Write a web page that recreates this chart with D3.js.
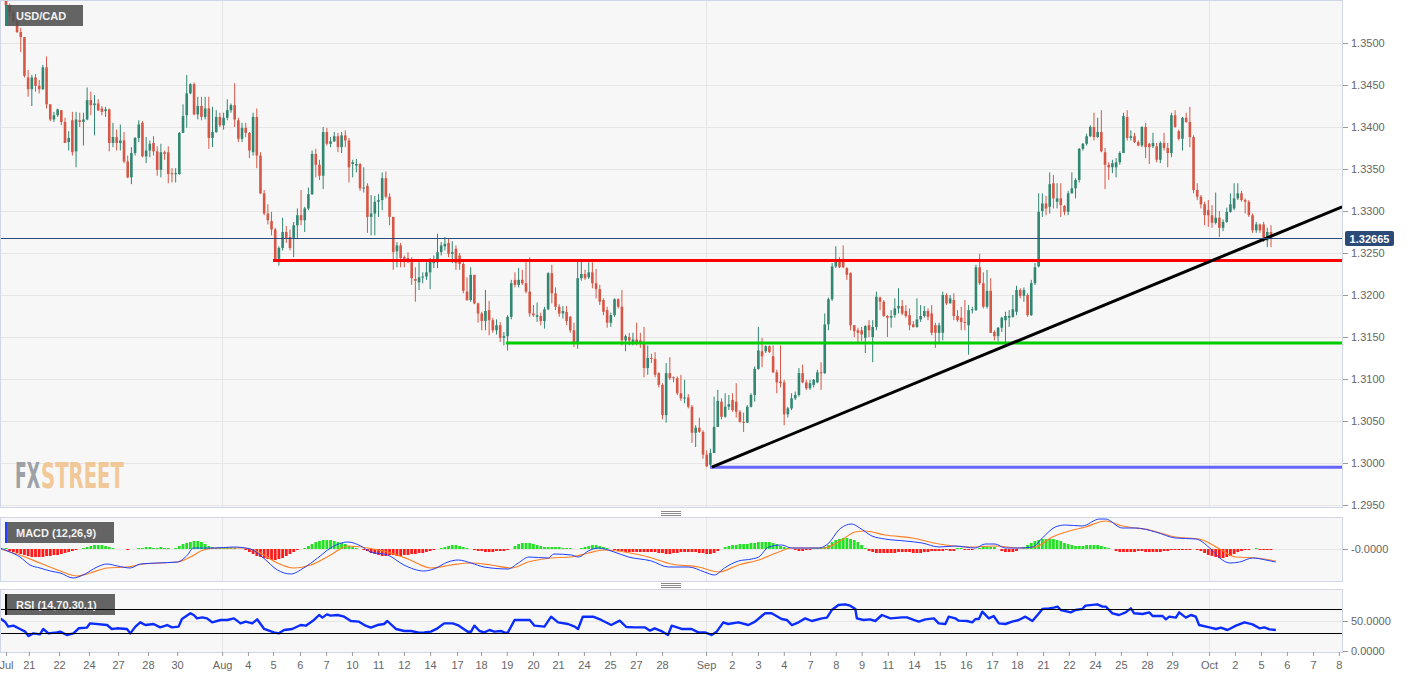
<!DOCTYPE html>
<html>
<head>
<meta charset="utf-8">
<script src="https://cdn.jsdelivr.net/npm/d3@7"></script>
<style>
  body { margin: 0; background: #fff; }
  svg { display: block; font-family: Arial, 'Liberation Sans', sans-serif; }
</style>
</head>
<body>
<script>
// USD/CAD 4h candles, Jul 20 .. Oct 5, rows are [open, close, high, low]
const candles = [
  [1.3551,1.3545,1.3557,1.3541],[1.3545,1.3537,1.3547,1.3532],[1.3536,1.3526,1.3539,1.3525],[1.3526,1.3513,1.3530,1.3512],
  [1.3513,1.3507,1.3518,1.3489],[1.3507,1.3461,1.3507,1.3459],[1.3459,1.3445,1.3468,1.3436],[1.3445,1.3459,1.3462,1.3425],
  [1.3459,1.3449,1.3463,1.3442],[1.3449,1.3445,1.3456,1.3440],[1.3445,1.3471,1.3474,1.3444],[1.3471,1.3427,1.3484,1.3422],
  [1.3427,1.3409,1.3427,1.3407],[1.3409,1.3414,1.3418,1.3406],[1.3414,1.3421,1.3422,1.3412],[1.3420,1.3406,1.3420,1.3402],
  [1.3406,1.3381,1.3411,1.3381],[1.3382,1.3387,1.3395,1.3372],[1.3408,1.3370,1.3418,1.3366],[1.3371,1.3409,1.3418,1.3352],
  [1.3408,1.3406,1.3417,1.3400],[1.3406,1.3409,1.3417,1.3378],[1.3409,1.3432,1.3447,1.3408],[1.3432,1.3426,1.3442,1.3414],
  [1.3426,1.3428,1.3438,1.3390],[1.3428,1.3420,1.3433,1.3419],[1.3422,1.3418,1.3425,1.3414],[1.3419,1.3421,1.3424,1.3412],
  [1.3421,1.3381,1.3422,1.3371],[1.3381,1.3388,1.3405,1.3376],[1.3388,1.3381,1.3397,1.3372],[1.3381,1.3384,1.3403,1.3372],
  [1.3384,1.3359,1.3394,1.3357],[1.3359,1.3340,1.3366,1.3339],[1.3340,1.3369,1.3376,1.3332],[1.3369,1.3387,1.3388,1.3366],
  [1.3387,1.3403,1.3408,1.3382],[1.3405,1.3365,1.3407,1.3364],[1.3365,1.3372,1.3388,1.3357],[1.3372,1.3380,1.3384,1.3364],
  [1.3381,1.3371,1.3389,1.3366],[1.3371,1.3349,1.3377,1.3342],[1.3349,1.3370,1.3380,1.3340],[1.3370,1.3368,1.3372,1.3361],
  [1.3370,1.3344,1.3377,1.3333],[1.3345,1.3344,1.3351,1.3334],[1.3344,1.3345,1.3351,1.3334],[1.3344,1.3393,1.3394,1.3343],
  [1.3393,1.3413,1.3427,1.3393],[1.3414,1.3440,1.3462,1.3399],[1.3440,1.3451,1.3452,1.3439],[1.3451,1.3415,1.3453,1.3414],
  [1.3415,1.3425,1.3436,1.3409],[1.3425,1.3412,1.3436,1.3408],[1.3412,1.3422,1.3436,1.3409],[1.3422,1.3387,1.3436,1.3374],
  [1.3387,1.3394,1.3424,1.3376],[1.3394,1.3412,1.3420,1.3393],[1.3412,1.3402,1.3417,1.3400],[1.3402,1.3411,1.3417,1.3397],
  [1.3411,1.3420,1.3433,1.3408],[1.3420,1.3426,1.3428,1.3417],[1.3426,1.3409,1.3452,1.3400],[1.3408,1.3386,1.3411,1.3382],
  [1.3386,1.3399,1.3405,1.3382],[1.3399,1.3393,1.3405,1.3388],[1.3393,1.3372,1.3394,1.3363],[1.3370,1.3412,1.3417,1.3366],
  [1.3412,1.3366,1.3422,1.3351],[1.3366,1.3321,1.3370,1.3320],[1.3321,1.3297,1.3325,1.3295],[1.3297,1.3289,1.3308,1.3284],
  [1.3288,1.3278,1.3299,1.3271],[1.3278,1.3243,1.3280,1.3242],[1.3243,1.3256,1.3258,1.3235],[1.3256,1.3275,1.3292,1.3253],
  [1.3275,1.3268,1.3282,1.3262],[1.3269,1.3256,1.3278,1.3253],[1.3268,1.3283,1.3287,1.3245],[1.3283,1.3295,1.3303,1.3268],
  [1.3295,1.3289,1.3325,1.3283],[1.3289,1.3303,1.3305,1.3275],[1.3303,1.3320,1.3328,1.3301],[1.3320,1.3368,1.3372,1.3319],
  [1.3368,1.3355,1.3374,1.3340],[1.3355,1.3342,1.3361,1.3337],[1.3342,1.3394,1.3400,1.3326],[1.3394,1.3380,1.3399,1.3378],
  [1.3380,1.3383,1.3388,1.3376],[1.3383,1.3389,1.3394,1.3382],[1.3389,1.3376,1.3393,1.3370],[1.3376,1.3390,1.3394,1.3369],
  [1.3390,1.3384,1.3396,1.3376],
  [1.3384,1.3352,1.3387,1.3334],[1.3356,1.3358,1.3361,1.3340],[1.3354,1.3356,1.3362,1.3346],[1.3356,1.3327,1.3357,1.3324],
  [1.3327,1.3328,1.3352,1.3322],[1.3330,1.3293,1.3333,1.3274],[1.3293,1.3297,1.3319,1.3271],[1.3297,1.3311,1.3318,1.3271],
  [1.3311,1.3313,1.3320,1.3293],[1.3313,1.3339,1.3346,1.3301],[1.3339,1.3317,1.3347,1.3315],[1.3317,1.3293,1.3321,1.3283],
  [1.3293,1.3251,1.3293,1.3230],[1.3252,1.3259,1.3263,1.3233],[1.3259,1.3244,1.3262,1.3233],[1.3245,1.3243,1.3247,1.3233],
  [1.3244,1.3239,1.3251,1.3238],[1.3239,1.3220,1.3245,1.3212],[1.3219,1.3217,1.3233,1.3192],[1.3215,1.3221,1.3239,1.3206],
  [1.3221,1.3222,1.3227,1.3214],[1.3222,1.3227,1.3239,1.3218],[1.3227,1.3240,1.3244,1.3207],[1.3238,1.3240,1.3247,1.3232],
  [1.3239,1.3251,1.3273,1.3232],[1.3251,1.3259,1.3263,1.3247],[1.3258,1.3261,1.3269,1.3253],[1.3262,1.3249,1.3267,1.3245],
  [1.3249,1.3251,1.3264,1.3238],[1.3255,1.3238,1.3259,1.3230],[1.3247,1.3237,1.3250,1.3230],[1.3237,1.3205,1.3239,1.3202],
  [1.3204,1.3194,1.3221,1.3193],[1.3194,1.3224,1.3233,1.3192],[1.3224,1.3190,1.3224,1.3189],[1.3190,1.3178,1.3191,1.3167],
  [1.3178,1.3169,1.3180,1.3158],[1.3169,1.3181,1.3206,1.3158],[1.3182,1.3170,1.3193,1.3152],[1.3170,1.3158,1.3173,1.3155],
  [1.3158,1.3164,1.3171,1.3153],[1.3164,1.3149,1.3168,1.3144],[1.3149,1.3151,1.3156,1.3140],[1.3151,1.3174,1.3176,1.3134],
  [1.3174,1.3214,1.3218,1.3171],[1.3218,1.3212,1.3227,1.3209],[1.3212,1.3218,1.3232,1.3209],[1.3218,1.3214,1.3230,1.3212],
  [1.3214,1.3204,1.3239,1.3202],[1.3204,1.3178,1.3245,1.3174],[1.3178,1.3176,1.3188,1.3174],[1.3174,1.3176,1.3191,1.3168],
  [1.3175,1.3169,1.3179,1.3164],[1.3169,1.3183,1.3186,1.3160],[1.3183,1.3226,1.3227,1.3182],[1.3226,1.3202,1.3236,1.3190],
  [1.3202,1.3186,1.3209,1.3182],[1.3186,1.3178,1.3189,1.3174],[1.3178,1.3181,1.3187,1.3172],[1.3180,1.3169,1.3187,1.3164],
  [1.3174,1.3158,1.3175,1.3155],[1.3158,1.3144,1.3167,1.3138],[1.3144,1.3220,1.3241,1.3136],[1.3220,1.3225,1.3241,1.3217],
  [1.3225,1.3220,1.3230,1.3218],[1.3221,1.3227,1.3239,1.3219],[1.3227,1.3214,1.3239,1.3208],[1.3214,1.3207,1.3231,1.3196],
  [1.3207,1.3192,1.3212,1.3188],[1.3194,1.3180,1.3196,1.3176],[1.3182,1.3167,1.3186,1.3161],[1.3167,1.3176,1.3179,1.3162],
  [1.3176,1.3195,1.3196,1.3174],[1.3195,1.3186,1.3196,1.3184],[1.3186,1.3146,1.3206,1.3140],[1.3146,1.3151,1.3153,1.3133],
  [1.3150,1.3146,1.3155,1.3140],[1.3144,1.3147,1.3155,1.3140],[1.3147,1.3144,1.3167,1.3140],[1.3146,1.3143,1.3155,1.3137],
  [1.3143,1.3113,1.3162,1.3102],[1.3113,1.3125,1.3140,1.3105],[1.3125,1.3124,1.3130,1.3119],[1.3124,1.3105,1.3132,1.3102],
  [1.3107,1.3093,1.3108,1.3090],[1.3093,1.3057,1.3095,1.3052],[1.3057,1.3107,1.3119,1.3048],[1.3107,1.3101,1.3126,1.3099],
  [1.3102,1.3101,1.3103,1.3096],[1.3101,1.3083,1.3103,1.3081],[1.3083,1.3077,1.3105,1.3074],[1.3077,1.3078,1.3099,1.3071],
  [1.3078,1.3067,1.3082,1.3065],[1.3067,1.3036,1.3069,1.3024],[1.3036,1.3042,1.3045,1.3019],
  [1.3042,1.3037,1.3054,1.3036],[1.3037,1.3010,1.3039,1.3005],[1.3010,1.2996,1.3015,1.2995],[1.2998,1.3012,1.3017,1.2996],
  [1.3012,1.3043,1.3079,1.3012],[1.3043,1.3074,1.3087,1.3043],[1.3073,1.3055,1.3077,1.3052],[1.3055,1.3067,1.3083,1.3054],
  [1.3067,1.3070,1.3081,1.3063],[1.3075,1.3063,1.3083,1.3061],[1.3073,1.3061,1.3095,1.3054],[1.3061,1.3049,1.3063,1.3048],
  [1.3049,1.3048,1.3060,1.3037],[1.3048,1.3067,1.3069,1.3048],[1.3067,1.3081,1.3083,1.3066],[1.3081,1.3112,1.3115,1.3073],
  [1.3112,1.3134,1.3162,1.3111],[1.3133,1.3127,1.3149,1.3114],[1.3133,1.3139,1.3140,1.3131],[1.3139,1.3132,1.3140,1.3131],
  [1.3127,1.3108,1.3140,1.3107],[1.3108,1.3096,1.3111,1.3083],[1.3097,1.3095,1.3140,1.3090],[1.3096,1.3058,1.3099,1.3045],
  [1.3058,1.3065,1.3067,1.3054],[1.3065,1.3077,1.3083,1.3063],[1.3077,1.3081,1.3085,1.3075],[1.3081,1.3107,1.3113,1.3079],
  [1.3107,1.3096,1.3117,1.3095],[1.3096,1.3089,1.3099,1.3087],[1.3089,1.3095,1.3099,1.3087],[1.3093,1.3099,1.3100,1.3090],
  [1.3096,1.3108,1.3111,1.3095],[1.3108,1.3107,1.3120,1.3087],[1.3107,1.3165,1.3178,1.3106],[1.3165,1.3195,1.3197,1.3158],
  [1.3195,1.3234,1.3238,1.3193],[1.3234,1.3240,1.3258,1.3232],[1.3240,1.3233,1.3245,1.3232],[1.3241,1.3233,1.3259,1.3232],
  [1.3232,1.3224,1.3233,1.3218],[1.3226,1.3164,1.3227,1.3158],[1.3164,1.3157,1.3164,1.3150],[1.3158,1.3155,1.3161,1.3143],
  [1.3158,1.3153,1.3162,1.3145],[1.3149,1.3163,1.3164,1.3131],[1.3164,1.3158,1.3170,1.3150],[1.3150,1.3162,1.3170,1.3120],
  [1.3162,1.3198,1.3204,1.3158],[1.3197,1.3192,1.3198,1.3182],[1.3192,1.3175,1.3194,1.3174],[1.3175,1.3173,1.3176,1.3150],
  [1.3173,1.3175,1.3182,1.3161],[1.3176,1.3184,1.3196,1.3173],[1.3184,1.3187,1.3208,1.3178],[1.3187,1.3178,1.3194,1.3176],
  [1.3181,1.3175,1.3188,1.3173],[1.3176,1.3164,1.3184,1.3158],[1.3165,1.3162,1.3169,1.3161],[1.3162,1.3171,1.3196,1.3161],
  [1.3171,1.3175,1.3188,1.3168],[1.3175,1.3181,1.3187,1.3173],[1.3181,1.3174,1.3184,1.3170],[1.3178,1.3155,1.3188,1.3152],
  [1.3164,1.3155,1.3167,1.3137],[1.3155,1.3164,1.3167,1.3144],[1.3155,1.3200,1.3204,1.3146],[1.3200,1.3190,1.3202,1.3188],
  [1.3190,1.3196,1.3200,1.3190],[1.3194,1.3175,1.3202,1.3170],[1.3175,1.3170,1.3182,1.3168],[1.3173,1.3168,1.3186,1.3158],
  [1.3168,1.3167,1.3194,1.3158],[1.3164,1.3182,1.3188,1.3129],[1.3182,1.3183,1.3186,1.3178],[1.3182,1.3233,1.3236,1.3181],
  [1.3233,1.3214,1.3249,1.3212],[1.3214,1.3186,1.3227,1.3184],[1.3186,1.3205,1.3230,1.3184],[1.3205,1.3155,1.3220,1.3155],
  [1.3156,1.3151,1.3158,1.3146],[1.3151,1.3161,1.3162,1.3145],[1.3161,1.3173,1.3174,1.3156],[1.3170,1.3175,1.3180,1.3143],
  [1.3173,1.3175,1.3182,1.3162],[1.3174,1.3183,1.3200,1.3173],[1.3180,1.3206,1.3211,1.3176],[1.3206,1.3199,1.3208,1.3196],
  [1.3199,1.3206,1.3209,1.3192],[1.3200,1.3176,1.3202,1.3174],[1.3176,1.3214,1.3218,1.3175],[1.3214,1.3233,1.3238,1.3212],
  [1.3234,1.3299,1.3321,1.3233],[1.3300,1.3309,1.3321,1.3293],[1.3309,1.3303,1.3318,1.3295],
  [1.3305,1.3332,1.3346,1.3297],[1.3333,1.3315,1.3343,1.3303],[1.3311,1.3315,1.3333,1.3303],[1.3315,1.3307,1.3333,1.3293],
  [1.3306,1.3299,1.3307,1.3295],[1.3299,1.3321,1.3324,1.3295],[1.3321,1.3327,1.3346,1.3321],[1.3327,1.3337,1.3339,1.3315],
  [1.3337,1.3374,1.3375,1.3334],[1.3374,1.3380,1.3381,1.3372],[1.3380,1.3389,1.3392,1.3378],[1.3389,1.3400,1.3402,1.3388],
  [1.3400,1.3388,1.3417,1.3384],[1.3388,1.3394,1.3411,1.3387],[1.3394,1.3371,1.3420,1.3370],[1.3370,1.3355,1.3375,1.3326],
  [1.3355,1.3352,1.3358,1.3337],[1.3352,1.3357,1.3361,1.3345],[1.3352,1.3358,1.3363,1.3340],[1.3358,1.3369,1.3371,1.3355],
  [1.3369,1.3413,1.3417,1.3369],[1.3412,1.3387,1.3420,1.3384],[1.3387,1.3389,1.3396,1.3384],[1.3389,1.3382,1.3393,1.3381],
  [1.3382,1.3378,1.3384,1.3377],[1.3378,1.3400,1.3401,1.3376],[1.3400,1.3376,1.3405,1.3363],[1.3380,1.3376,1.3381,1.3356],
  [1.3377,1.3381,1.3393,1.3375],[1.3377,1.3361,1.3381,1.3358],[1.3361,1.3381,1.3383,1.3357],[1.3381,1.3375,1.3393,1.3372],
  [1.3375,1.3369,1.3381,1.3352],[1.3369,1.3414,1.3417,1.3364],[1.3414,1.3400,1.3420,1.3399],[1.3395,1.3386,1.3397,1.3384],
  [1.3386,1.3411,1.3412,1.3372],[1.3411,1.3406,1.3417,1.3405],[1.3406,1.3388,1.3424,1.3376],[1.3388,1.3325,1.3390,1.3321],
  [1.3325,1.3317,1.3333,1.3313],[1.3317,1.3308,1.3319,1.3303],[1.3308,1.3295,1.3311,1.3283],[1.3301,1.3295,1.3313,1.3281],
  [1.3295,1.3286,1.3307,1.3280],[1.3286,1.3292,1.3322,1.3284],[1.3292,1.3280,1.3300,1.3269],[1.3280,1.3287,1.3290,1.3276],
  [1.3287,1.3299,1.3304,1.3286],[1.3299,1.3308,1.3321,1.3298],[1.3303,1.3315,1.3333,1.3301],[1.3315,1.3321,1.3333,1.3313],
  [1.3321,1.3313,1.3324,1.3311],[1.3313,1.3311,1.3315,1.3297],[1.3311,1.3295,1.3313,1.3293],[1.3295,1.3277,1.3297,1.3274],
  [1.3277,1.3284,1.3287,1.3274],[1.3284,1.3277,1.3285,1.3274],[1.3284,1.3265,1.3287,1.3263],[1.3265,1.3275,1.3280,1.3257],
  [1.3275,1.32665,1.3283,1.3257]
]

const last_price = 1.32665

// MACD (12,26,9) in pips, [candle index, value]
const macd_line = [[-1.6,1],[1.1,-3],[3.8,-8],[6.5,-16],[9.2,-19],[12,-22],[14.7,-24],[18.2,-29],[20.9,-26],[24.7,-18],[27.4,-15],[30.2,-17],[33.7,-19],[36.4,-15],[41,-14],[46.5,-13],[49.2,-6],[50.8,1],[53.5,1],[56.3,1],[61.7,2],[66.3,0],[69.8,-9],[73.6,-21],[77.2,-25],[80.7,-19],[84.5,-9],[88,1],[92.7,7],[96.2,3],[98.9,-3],[103.5,-6],[107.9,-16],[113.3,-22],[116,-20],[119.8,-13],[122.6,-11],[126.1,-14],[129.6,-18],[136.1,-20],[138.9,-14],[141.8,-8],[147,-9],[148.6,-5],[153.3,-6],[155.2,-8],[157.9,-2],[160.6,1],[164.9,-3],[168.8,-8],[175,-12],[179.6,-18],[185.1,-18],[189.4,-23],[192.1,-26],[194.8,-19],[198.6,-12],[202.2,-10],[204.1,-8],[206.8,2],[210.3,4],[213,1],[216.6,1],[220.4,1],[223.1,6],[225.8,19],[229.3,25],[231.5,21],[234.8,13],[238.3,10],[243.8,8],[248.4,6],[253,2],[257.3,3],[262.8,1],[265.5,5],[268.2,5],[270.9,1],[274.7,1],[278.3,2],[281,11],[284.5,22],[287.2,24],[291.8,23],[296.5,30],[298.1,30],[302.7,21],[306.3,21],[311.7,17],[317.1,11],[322.6,10],[326.4,1],[329.1,-9],[331.8,-14],[334.5,-13],[338,-9],[341.6,-11],[344.3,-13]]
const signal_line = [[-1.6,0],[3.8,-6],[9.2,-14],[14.7,-22],[19.3,-27],[22.8,-24],[27.4,-19],[32.9,-18],[37.2,-15],[46.5,-13],[50,-8],[53.5,-1],[57.3,1],[64.4,1],[69,-4],[73.6,-14],[78,-19],[82.6,-16],[88,-6],[92.7,3],[98.1,1],[103.5,-3],[109,-10],[115.2,-19],[120.7,-16],[126.1,-14],[131.5,-16],[137,-19],[141.6,-13],[147.8,-9],[153.3,-8],[157.9,-4],[162.2,-1],[167.7,-3],[174.2,-8],[180.4,-15],[187.8,-18],[193.2,-23],[198.6,-16],[204.1,-11],[209.5,-3],[213,1],[222,1],[226.6,9],[230.2,17],[232.9,18],[238.3,14],[245.7,11],[253,5],[261.1,2],[268.2,3],[274.7,1],[279.1,2],[283.7,12],[288.3,18],[292.7,22],[298.1,28],[302.7,23],[310.1,19],[317.1,12],[323.6,10],[329.1,0],[333.4,-8],[338.9,-9],[344.3,-12]]
const macd_hist = [
  1,-2,-3,-4,-5,-6,-7,-8,-8,-8, -8,-7,-7,-6,-6,-5,-4,-3,-2,-1, 0,1,2,3,4,4,4,3,2,1, 0,0,0,-1,0,0,1,1,2,2,
  1,1,2,1,1,0,1,3,5,6, 7,8,8,7,5,3,2,1,1,1, 1,1,1,0,0,-1,-3,-5,-7,-8, -9,-10,-11,-11,-10,-9,-7,-5,-3,-1,
  0,1,3,5,7,8,9,9,9,8, 7,6,5,3,2,1,0,-1,-2,-4, -5,-6,-7,-7,-6,-6,-7,-7,-6,-6, -5,-5,-4,-4,-3,-2,-1,0,1,2,
  3,4,4,3,2,1,0,-1,-2,-2, -3,-3,-3,-2,-2,-2,-1,0,3,5, 6,6,6,5,4,3,2,2,2,2, 2,1,1,1,0,0,1,2,3,4,
  4,3,2,1,0,-1,-2,-2,-3,-3, -3,-3,-3,-3,-3,-3,-3,-4,-4,-5, -5,-4,-4,-3,-3,-3,-3,-3,-4,-4, -5,-5,-4,-2,0,2,3,4,4,5,
  5,5,6,6,7,7,7,7,6,5, 3,2,1,0,-1,-2,-2,-1,-1,1, 1,1,2,4,7,9,10,11,11,10, 9,7,4,1,-2,-3,-4,-4,-4,-4,
  -4,-4,-3,-3,-3,-3,-4,-4,-4,-3, -3,-2,-2,-2,-2,-1,-2,-2,1,1, -1,-1,-1,0,1,2,2,2,2,0, -2,-3,-3,-3,-2,0,2,4,6,8,
  9,10,10,10,10,9,8,6,5,4, 3,3,3,4,4,4,4,3,2,1, 0,-2,-3,-3,-3,-3,-3,-2,-2,-3, -3,-3,-3,-3,-2,-2,-1,-1,-1,-1,
  -1,-1,0,-1,-2,-4,-6,-7,-8,-9, -9,-8,-7,-5,-3,-2,-1,-1,0,1, -1,-1,-1,-1
]

// RSI (14), [candle index, value]
const rsi_line = [[-1.6,54.4],[-0.3,48.9],[0.6,40.6],[2,42.2],[3.8,36.7],[5.2,32.2],[6.1,25],[7.4,29.4],[9.2,27.8],[10.1,36.7],[11.5,29.4],[13.8,31.1],[14.7,32.2],[16.5,26.7],[18.3,29.4],[19.7,37.8],[21.9,38.9],[22.8,46.1],[27.4,43.3],[28.7,36.7],[30.1,37.8],[32.8,36.7],[33.7,29.4],[35.1,40.6],[36.4,47.8],[37.8,43.3],[40,45],[41.8,39.4],[43.7,43.3],[45,39.4],[46.8,40.6],[47.7,53.3],[50,62.8],[50.9,60],[51.8,54.4],[53.2,56.1],[54.5,54.4],[55.9,47.8],[58.2,51.7],[60,51.7],[61.8,54.4],[63.6,46.1],[65,48.9],[66.8,46.1],[68.1,52.8],[70,36.7],[72.6,31.1],[74,29.4],[75.4,35],[77.6,36.7],[79.9,43.3],[81.3,42.2],[83.5,51.7],[84.9,60],[85.8,55.6],[87,61.1],[88,58.9],[89.9,60],[91.7,57.2],[93.5,50],[95.7,48.9],[97.5,42.2],[98.9,38.9],[100.7,43.3],[102.5,45],[103.4,50],[105.7,36.7],[108,33.3],[109.8,33.3],[112,30.6],[113.4,31.1],[115.2,32.2],[117,37.8],[118.8,46.1],[121.1,46.1],[122.5,43.3],[125.2,32.2],[126.1,32.2],[127,42.2],[128.4,33.3],[129.7,31.1],[131.1,35],[132.4,32.2],[134.3,33.3],[135.2,30.6],[136.1,31.1],[137.9,51.7],[140.6,51.7],[142,51.7],[143.3,42.2],[146,40.6],[147.8,57.2],[149.7,47.8],[152.4,45],[154.2,40.6],[155.1,36.7],[156.4,57.2],[159.2,57.2],[161.4,51.7],[164.1,43.3],[166.4,50.6],[168.2,40],[170.5,39.4],[173.2,39.4],[174.6,33.9],[175.9,37.8],[177.7,33.3],[179.5,26.7],[180.5,42.2],[183.2,36.7],[185.9,36.7],[187.7,31.1],[189.5,31.1],[191.3,26.7],[192.7,32.2],[194.5,47.8],[195.8,45],[198.6,47.8],[201.3,43.3],[203.1,48.9],[204.9,58.3],[205.8,62.8],[207.6,62.8],[210.3,53.3],[211.7,51.7],[213.1,43.3],[214.9,47.8],[216.7,54.4],[218.5,50],[221.2,54.4],[222.6,55.6],[223.9,68.3],[225.7,76.7],[227.5,77.8],[228.9,75.6],[230.3,70],[230.7,54.4],[232.5,51.7],[234.3,52.8],[235.7,50],[237.5,60],[239.8,54.4],[243,56.1],[244.3,56.1],[246.1,51.7],[247.5,48.9],[249.3,52.8],[251.6,54.4],[252.9,46.1],[254.7,45],[255.6,57.2],[257.4,54.4],[258.3,50.6],[260.6,50],[262,47.8],[262.9,53.3],[263.8,53.3],[264.7,65.6],[266.5,54.4],[267.8,58.3],[269.2,46.1],[271,45],[272.8,48.9],[274.6,51.7],[276.4,57.2],[278.3,50],[280.1,62.8],[281,70],[282.8,71.1],[284.1,72.2],[285.1,73.9],[286,68.3],[288.7,64.4],[290,68.3],[291.8,70],[292.7,75.6],[295.9,77.8],[297.3,73.9],[298.2,73.9],[300,62.8],[301.8,60],[303.6,64.4],[305,71.1],[305.9,62.8],[308.2,61.7],[310,64.4],[310.9,58.3],[313.6,58.3],[314.5,52.8],[315.4,57.2],[317.2,55.6],[318.1,64.4],[319.9,55.6],[321.3,60],[322.6,57.2],[323.5,43.3],[326.3,39.4],[328.1,36.7],[329.4,38.9],[331.2,35],[333.5,42.2],[335.8,47.8],[338,44.4],[339.9,37.8],[341.2,39.4],[342.6,36.1],[344.3,35]]
const rsi_bands = [70, 30]

// horizontal levels: price and the candle where each starts
const level_prices = [1.3241, 1.3143, 1.2995]
const level_starts = [72.4, 135.6, 190.9]
// rising trend line, [candle index, price]
const trend_line = [[191.4, 1.2995], [362.3, 1.3305]]

const price_ticks = [1.2950, 1.3000, 1.3050, 1.3100, 1.3150, 1.3200, 1.3250, 1.3300, 1.3350, 1.3400, 1.3450, 1.3500]
const x_ticks = [[0,'Jul'],[6.2,'21'],[14.4,'22'],[22.5,'24'],[30.4,'27'],[38.5,'28'],[46.4,'30'],[58.6,'Aug'],[65.6,'4'],[72.4,'5'],[79.7,'6'],[86.8,'7'],[93.8,'10'],[100.9,'11'],[107.9,'12'],[115,'14'],[122.3,'17'],[128.8,'18'],[135.8,'19'],[142.9,'20'],[149.7,'21'],[156.7,'24'],[163.8,'25'],[170.8,'27'],[177.9,'28'],[189.8,'Sep'],[196.8,'2'],[203.9,'3'],[210.9,'4'],[218,'7'],[225,'8'],[232,'9'],[239.1,'11'],[246.2,'14'],[253.2,'15'],[260.3,'16'],[267.4,'17'],[274.1,'18'],[281.2,'21'],[288.2,'22'],[295.3,'24'],[302.3,'25'],[309.4,'28'],[316.2,'29'],[326.2,'Oct'],[333.2,'2'],[340.3,'5'],[347.3,'6'],[354.4,'7'],[361.4,'8']]

const width = 1413
const height = 678
const plot_right = 1342
const main_panel = {top: 0, bottom: 507}
const macd_panel = {top: 517, bottom: 581}
const rsi_panel = {top: 589, bottom: 652}

const up = '#318771'
const down = '#d65746'
const grid = '#e6e6e6'
const border = '#cfd6e6'
const font = "Arial, 'Liberation Sans', sans-serif"

function translate(dx, dy) {
  return `translate(${dx}, ${dy})`
}

const svg = d3.select('body').append('svg')
  .attr('width', width)
  .attr('height', height)

const x = d3.scaleLinear().domain([0, candles.length - 1]).range([6, 1271])
const y = d3.scaleLinear().domain([1.3, 1.35]).range([463, 43])
const macd_y = d3.scaleLinear().domain([-32, 32]).range([581, 517])
const rsi_y = d3.scaleLinear().domain([0, 100]).range([651, 591])

const defs = svg.append('defs')

function panel(p, id) {
  svg.append('rect')
    .attr('x', 0.5).attr('y', p.top + 0.5)
    .attr('width', plot_right).attr('height', p.bottom - p.top)
    .attr('fill', '#f7f7f7').attr('stroke', border)
  defs.append('clipPath').attr('id', id).append('rect')
    .attr('x', 1).attr('y', p.top + 1)
    .attr('width', plot_right - 1).attr('height', p.bottom - p.top - 1)
  // month separators
  svg.append('g').selectAll('line')
    .data(x_ticks.filter(t => isNaN(+t[1]) && t[0] > 0))
    .join('line')
      .attr('x1', t => Math.round(x(t[0])) + 0.5).attr('x2', t => Math.round(x(t[0])) + 0.5)
      .attr('y1', p.top + 1).attr('y2', p.bottom)
      .attr('stroke', grid)
  return svg.append('g').attr('clip-path', `url(#${id})`)
}

function right_axis(scale, values, format) {
  const g = svg.append('g')
    .attr('transform', translate(plot_right + 1, 0))
    .call(d3.axisRight(scale).tickValues(values).tickFormat(format).tickSize(5).tickPadding(3))
  g.select('.domain').remove()
  g.attr('font-family', font).attr('font-size', 11)
  g.selectAll('line').attr('stroke', '#9a9a9a')
  g.selectAll('text').attr('fill', '#666')
  return g
}

function tag(x0, y0, w, text, accent) {
  const g = svg.append('g').attr('transform', translate(x0, y0))
  g.append('rect').attr('width', w).attr('height', 21).attr('fill', '#505050').attr('opacity', 0.88)
  g.append('rect').attr('width', 2).attr('height', 21).attr('fill', accent)
  g.append('text').attr('x', 11).attr('y', 15)
    .attr('font-family', font).attr('font-size', 11).attr('font-weight', 'bold')
    .attr('fill', '#f2f2f2').text(text)
}

function grip(yc) {
  svg.append('g').selectAll('line').data([-2, 0, 2]).join('line')
    .attr('x1', 661).attr('x2', 681)
    .attr('y1', d => yc + d + 0.5).attr('y2', d => yc + d + 0.5)
    .attr('stroke', '#8a8a8a')
}

// squeeze a word into a given width, by scaling it horizontally
function word(parent, text, x0, w, fill) {
  const g = parent.append('g')
  const t = g.append('text').attr('y', 0).attr('fill', fill).text(text)
  const natural = t.node().getComputedTextLength()
  g.attr('transform', `translate(${x0}, 488) scale(${w / natural}, 1)`)
}

// ---- price panel
const main = panel(main_panel, 'clip-main')

main.append('g').selectAll('line').data(price_ticks).join('line')
  .attr('x1', 0).attr('x2', plot_right)
  .attr('y1', d => Math.round(y(d)) + 0.5).attr('y2', d => Math.round(y(d)) + 0.5)
  .attr('stroke', grid)

const mark = main.append('g')
  .attr('font-family', "'DejaVu Sans Condensed', 'DejaVu Sans', sans-serif")
  .attr('font-weight', 'bold').attr('font-size', 35)
  .attr('opacity', 0.9)
word(mark, 'FX', 15, 25, '#94979d')
word(mark, 'STREET', 41, 83, '#f1c48e')

const candle = main.append('g').selectAll('g').data(candles).join('g')
  .attr('fill', d => d[1] >= d[0] ? up : down)
  .attr('stroke', d => d[1] >= d[0] ? up : down)

candle.append('line')
  .attr('x1', (d, i) => x(i)).attr('x2', (d, i) => x(i))
  .attr('y1', d => y(d[2])).attr('y2', d => y(d[3]))
  .attr('stroke-width', 1)

candle.append('rect')
  .attr('x', (d, i) => x(i) - 1.3)
  .attr('width', 2.6)
  .attr('y', d => y(Math.max(d[0], d[1])))
  .attr('height', d => Math.max(1, Math.abs(y(d[0]) - y(d[1]))))
  .attr('stroke', 'none')

const level_colors = ['#ff0000', '#00cc00', '#6666ff']
main.append('g').selectAll('line').data(level_prices).join('line')
  .attr('x1', (d, i) => x(level_starts[i])).attr('x2', plot_right)
  .attr('y1', d => y(d)).attr('y2', d => y(d))
  .attr('stroke', (d, i) => level_colors[i])
  .attr('stroke-width', 3)

main.append('path')
  .attr('d', d3.line().x(d => x(d[0])).y(d => y(d[1]))(trend_line))
  .attr('stroke', '#000').attr('stroke-width', 3).attr('fill', 'none')

const last_y = Math.round(y(last_price)) - 0.5
main.append('line')
  .attr('x1', 0).attr('x2', plot_right)
  .attr('y1', last_y).attr('y2', last_y)
  .attr('stroke', '#2b4a78').attr('stroke-width', 1)

right_axis(y, price_ticks, d3.format('.4f'))

const price_tag = svg.append('g').attr('transform', translate(plot_right + 3, last_y))
price_tag.append('rect').attr('x', 0).attr('y', -7.5).attr('width', 49).attr('height', 15).attr('rx', 2)
  .attr('fill', '#2b4a78')
price_tag.append('text').attr('x', 24.5).attr('y', 4).attr('text-anchor', 'middle')
  .attr('font-family', font).attr('font-size', 11).attr('font-weight', 'bold')
  .attr('fill', '#fff').text(d3.format('.5f')(last_price))

tag(5, 5, 78, 'USD/CAD', '#2a8a78')
grip(513)

// ---- MACD panel
const macd_g = panel(macd_panel, 'clip-macd')
tag(5, 522, 109, 'MACD (12,26,9)', '#1f3fff')

macd_g.append('line')
  .attr('x1', 0).attr('x2', plot_right)
  .attr('y1', macd_y(0) + 0.5).attr('y2', macd_y(0) + 0.5)
  .attr('stroke', grid)

macd_g.append('g').selectAll('rect').data(macd_hist).join('rect')
  .attr('x', (d, i) => x(i) - 1.4)
  .attr('width', 2.8)
  .attr('y', d => macd_y(Math.max(0, d)))
  .attr('height', d => Math.abs(macd_y(d) - macd_y(0)))
  .attr('fill', d => d >= 0 ? '#22e022' : '#ff1a1a')

const macd_path = d3.line().x(d => x(d[0])).y(d => macd_y(d[1])).curve(d3.curveMonotoneX)
macd_g.append('path').attr('d', macd_path(signal_line))
  .attr('fill', 'none').attr('stroke', '#ff7f24').attr('stroke-width', 1.2)
macd_g.append('path').attr('d', macd_path(macd_line))
  .attr('fill', 'none').attr('stroke', '#2040ff').attr('stroke-width', 1)

right_axis(macd_y, [0], () => '-0.0000')
grip(585)

// ---- RSI panel
const rsi_g = panel(rsi_panel, 'clip-rsi')
tag(5, 594, 110, 'RSI (14,70,30,1)', '#000')

rsi_g.append('line')
  .attr('x1', 0).attr('x2', plot_right)
  .attr('y1', Math.round(rsi_y(50)) + 0.5).attr('y2', Math.round(rsi_y(50)) + 0.5)
  .attr('stroke', grid)

svg.append('g').selectAll('line').data(rsi_bands).join('line')
  .attr('x1', 1).attr('x2', plot_right)
  .attr('y1', d => Math.round(rsi_y(d)) + 0.5).attr('y2', d => Math.round(rsi_y(d)) + 0.5)
  .attr('stroke', '#000')

rsi_g.append('path')
  .attr('d', d3.line().x(d => x(d[0])).y(d => rsi_y(d[1]))(rsi_line))
  .attr('fill', 'none').attr('stroke', '#0a2cff').attr('stroke-width', 2.4)
  .attr('stroke-linejoin', 'round')

right_axis(rsi_y, [0, 50], d3.format('.4f'))

// ---- time axis
const x_axis = svg.append('g')
  .attr('transform', translate(0, rsi_panel.bottom))
  .call(d3.axisBottom(x).tickValues(x_ticks.map(t => t[0])).tickFormat((d, i) => x_ticks[i][1]).tickSize(4).tickPadding(5))
x_axis.select('.domain').remove()
x_axis.attr('font-family', font).attr('font-size', 11)
x_axis.selectAll('line').attr('stroke', '#9a9a9a')
x_axis.selectAll('text').attr('fill', '#666')
</script>
</body>
</html>
